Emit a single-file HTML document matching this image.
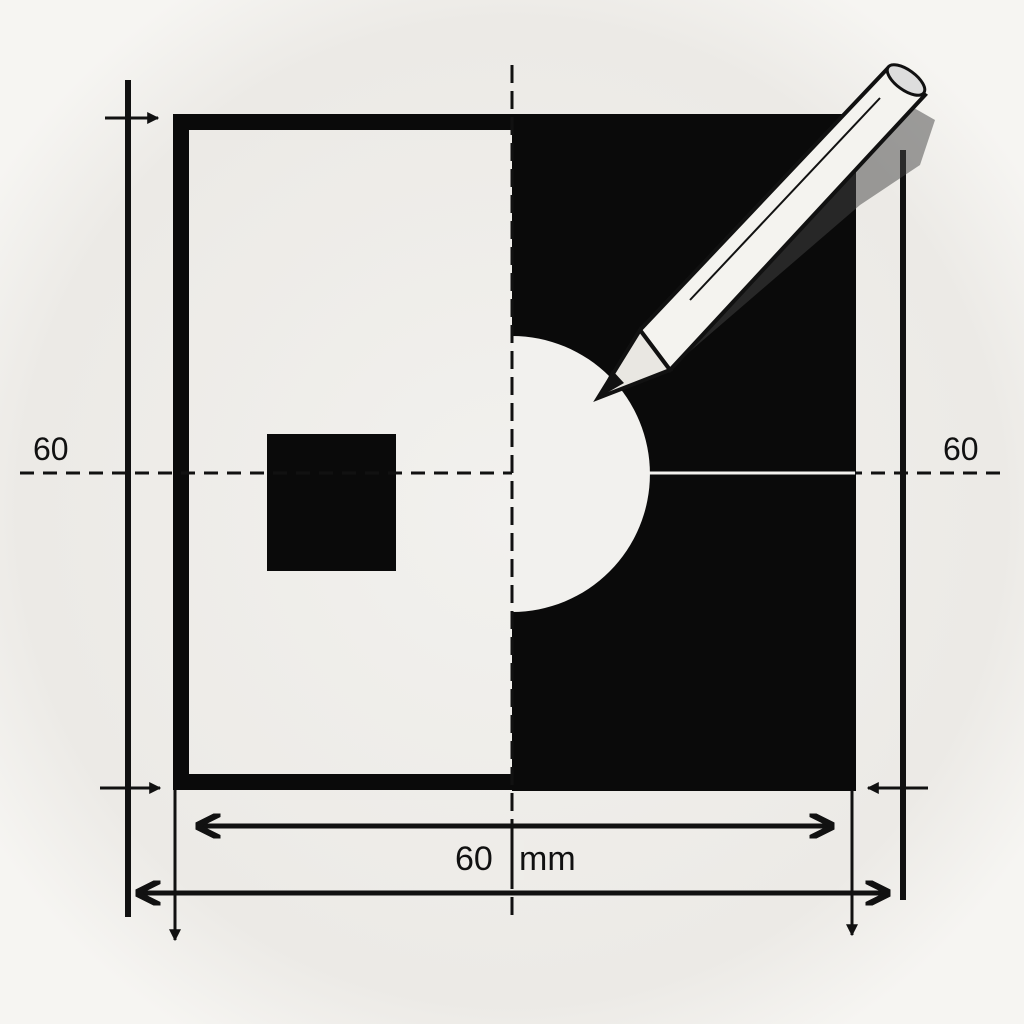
<!DOCTYPE html>
<html><head><meta charset="utf-8"><style>
html,body{margin:0;padding:0;background:#f3f2ef;}
svg{display:block}
text{font-family:"Liberation Sans",sans-serif;fill:#111}
</style></head><body>
<svg width="1024" height="1024" viewBox="0 0 1024 1024">
<defs>
<radialGradient id="bg" cx="50%" cy="50%" r="60%"><stop offset="0" stop-color="#f2f1ee"/><stop offset="0.8" stop-color="#eceae6"/><stop offset="1" stop-color="#f6f5f2"/></radialGradient>
<marker id="ah" viewBox="0 0 10 10" refX="9" refY="5" markerWidth="5" markerHeight="5" orient="auto-start-reverse"><path d="M0,0 L10,5 L0,10" fill="none" stroke="#111" stroke-width="2.5"/></marker>
<marker id="at" viewBox="0 0 10 10" refX="9" refY="5" markerWidth="4" markerHeight="4" orient="auto-start-reverse"><path d="M0,0 L10,5 L0,10 z" fill="#111"/></marker>
</defs>
<rect width="1024" height="1024" fill="url(#bg)"/>
<g>
<rect x="512" y="114" width="344" height="677" fill="#0a0a0a"/>
<path d="M512,122 H181 V782 H512" fill="none" stroke="#0a0a0a" stroke-width="16"/>
<path d="M512,336 A138,138 0 0 1 512,612 Z" fill="#f2f1ee"/>
<rect x="267" y="434" width="129" height="137" fill="#0a0a0a"/>
</g>
<line x1="20" y1="473" x2="1000" y2="473" stroke="#111" stroke-width="3" stroke-dasharray="14,9"/>
<line x1="512" y1="473" x2="855" y2="473" stroke="#f2f1ee" stroke-width="3"/>
<line x1="512" y1="65" x2="512" y2="920" stroke="#111" stroke-width="3" stroke-dasharray="18,8"/>
<line x1="128" y1="80" x2="128" y2="917" stroke="#111" stroke-width="6"/>
<line x1="903" y1="150" x2="903" y2="900" stroke="#111" stroke-width="6"/>
<line x1="105" y1="118" x2="158" y2="118" stroke="#111" stroke-width="3" marker-end="url(#at)"/>
<line x1="100" y1="788" x2="160" y2="788" stroke="#111" stroke-width="3" marker-end="url(#at)"/>
<line x1="928" y1="788" x2="868" y2="788" stroke="#111" stroke-width="3" marker-end="url(#at)"/>
<line x1="198" y1="826" x2="832" y2="826" stroke="#111" stroke-width="5" marker-start="url(#ah)" marker-end="url(#ah)"/>
<line x1="138" y1="893" x2="888" y2="893" stroke="#111" stroke-width="5" marker-start="url(#ah)" marker-end="url(#ah)"/>
<line x1="175" y1="790" x2="175" y2="940" stroke="#111" stroke-width="3" marker-end="url(#at)"/>
<line x1="852" y1="790" x2="852" y2="935" stroke="#111" stroke-width="3" marker-end="url(#at)"/>
<rect x="500" y="840" width="24" height="40" fill="#eeede9"/>
<line x1="512" y1="836" x2="512" y2="884" stroke="#111" stroke-width="3"/>
<text x="455" y="870" font-size="34">60</text>
<text x="519" y="870" font-size="34">mm</text>
<text x="33" y="460" font-size="32">60</text>
<text x="943" y="460" font-size="32">60</text>
<g>
<path d="M900,100 L935,120 L920,165 L860,205 L680,360 Z" fill="#444" opacity="0.5"/>
<path d="M640,330 L888,68 L925,95 L670,370 Z" fill="#f4f3ef" stroke="#111" stroke-width="4"/>
<ellipse cx="906" cy="80" rx="22" ry="10" transform="rotate(36 906 80)" fill="#ddd" stroke="#111" stroke-width="3"/>
<path d="M640,330 L670,370 L598,398 Z" fill="#e9e7e2" stroke="#111" stroke-width="4"/>
<path d="M612,370 L624,383 L598,398 Z" fill="#111"/>
<line x1="690" y1="300" x2="880" y2="98" stroke="#111" stroke-width="2"/>
</g>
</svg>
</body></html>
